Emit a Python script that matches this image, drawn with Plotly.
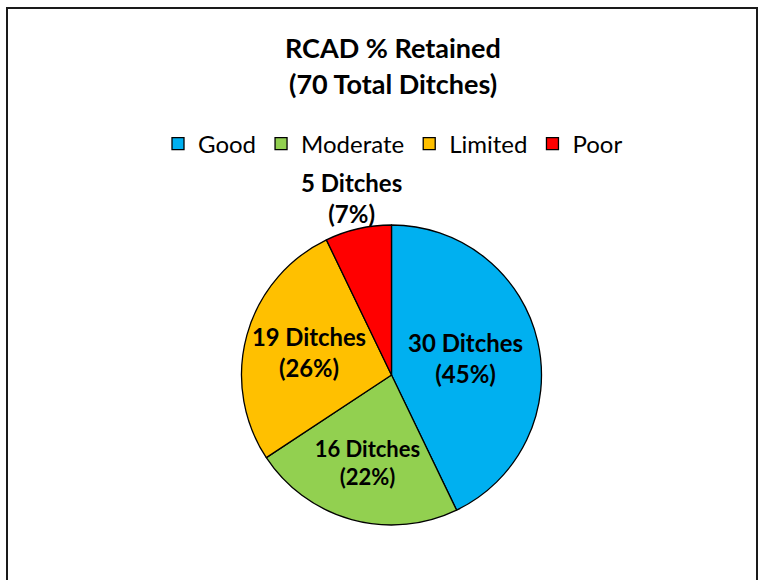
import math

import plotly.graph_objects as go

# data
categories = ["Good", "Moderate", "Limited", "Poor"]
ditches = [30, 16, 19, 5]
pct_labels = ["45%", "22%", "26%", "7%"]
colors = ["#00B0F0", "#92D050", "#FFC000", "#FF0000"]

FONT = "Lato, 'Open Sans', sans-serif"
W, H = 765, 580
PIE_X = [239 / W, 544 / W]
PIE_Y = [1 - 525 / H, 1 - 225 / H]

labels_text = [f"{n} Ditches<br>({p})" for n, p in zip(ditches, pct_labels)]
label_font = {"family": FONT, "size": 24, "color": "#000000", "weight": "bold"}

fig = go.Figure(go.Pie(
    labels=categories,
    values=ditches,
    text=labels_text[:-1] + [""],
    textinfo="text",
    textposition="inside",
    insidetextorientation="horizontal",
    textfont=label_font,
    marker={"colors": colors, "line": {"color": "#000000", "width": 1.3}},
    sort=False,
    direction="clockwise",
    rotation=0,
    hoverinfo="label+value",
    domain={"x": PIE_X, "y": PIE_Y},
))

# the small slice gets its label just outside the pie, along its mid angle
total = sum(ditches)
mid = (sum(ditches[:-1]) + ditches[-1] / 2) / total * 2 * math.pi
cx, cy = (PIE_X[0] + PIE_X[1]) / 2 * W, (PIE_Y[0] + PIE_Y[1]) / 2 * H
r = (PIE_Y[1] - PIE_Y[0]) * H / 2 * 1.21
fig.add_annotation(text=labels_text[-1], x=(cx + r * math.sin(mid)) / W,
                   y=(cy + r * math.cos(mid)) / H,
                   xref="paper", yref="paper", showarrow=False,
                   xanchor="center", yanchor="middle", font=label_font)

fig.add_annotation(text="<b>RCAD % Retained</b>", x=393 / W, y=1 - 47 / H,
                   xref="paper", yref="paper", showarrow=False,
                   xanchor="center", yanchor="middle",
                   font={"family": FONT, "size": 27, "color": "#000000"})
fig.add_annotation(text="<b>(70 Total Ditches)</b>", x=393 / W, y=1 - 83 / H,
                   xref="paper", yref="paper", showarrow=False,
                   xanchor="center", yanchor="middle",
                   font={"family": FONT, "size": 27, "color": "#000000"})

fig.add_shape(type="rect", xref="paper", yref="paper",
              x0=7 / W, x1=757 / W, y0=-0.05, y1=1 - 8 / H,
              line={"color": "#1a1a1a", "width": 2})

fig.update_layout(
    width=W,
    height=H,
    margin={"l": 0, "r": 0, "t": 0, "b": 0},
    paper_bgcolor="#FFFFFF",
    plot_bgcolor="#FFFFFF",
    font={"family": FONT, "color": "#000000"},
    showlegend=True,
    legend={
        "orientation": "h",
        "x": 393 / W,
        "xanchor": "center",
        "y": 1 - 144 / H,
        "yanchor": "middle",
        "font": {"family": FONT, "size": 24, "color": "#000000"},
        "traceorder": "normal",
    },
)

fig.write_html("out.html", config={"displayModeBar": False},
               post_script="document.body.style.margin = '0';")
